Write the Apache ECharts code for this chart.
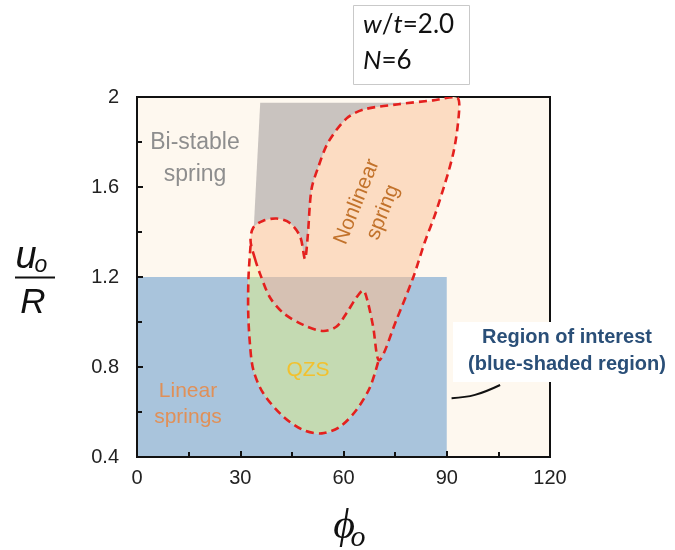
<!DOCTYPE html>
<html>
<head>
<meta charset="utf-8">
<script src="https://cdn.jsdelivr.net/npm/echarts@6/dist/echarts.min.js"></script>
<style>
html,body{margin:0;padding:0;background:#fff;}
#c{width:675px;height:550px;}
</style>
</head>
<body>
<div id="c"></div>
<script>
// ---- data (phi_o in degrees, u_o/R) ----
const phiTicks = [0, 30, 60, 90, 120];
const uTicks = [0.4, 0.8, 1.2, 1.6, 2.0];

// region of interest (blue rectangle)
const roiPhi = [0, 90];
const roiU = [0.4, 1.2];

// bi-stable spring region (gray, partly hidden under nonlinear region)
const bistablePhi = [35.8, 88.0, 70.0, 49.0, 40.0, 33.8];
const bistableU   = [1.975, 1.975, 1.50, 1.20, 1.30, 1.38];

// nonlinear spring region outline (closed)
const nonlinearPhi = [34.3, 33.0, 33.8, 36.7, 40.6, 44.4, 47.4, 48.8, 49.6, 50.7, 52.7, 55.6, 60.9, 66.0, 76.0, 86.0, 93.0, 93.6, 91.9, 87.1, 83.5, 80.3, 75.4, 70.4, 68.6, 67.2, 65.8, 63.8, 60.9, 58.0, 54.1, 48.3, 42.5, 38.6, 35.7];
const nonlinearU   = [1.28, 1.36, 1.42, 1.45, 1.46, 1.44, 1.38, 1.28, 1.38, 1.59, 1.69, 1.80, 1.905, 1.945, 1.968, 1.985, 1.997, 1.94, 1.75, 1.50, 1.35, 1.20, 1.01, 0.83, 0.98, 1.08, 1.14, 1.11, 1.04, 0.98, 0.96, 0.987, 1.04, 1.11, 1.216];

// QZS region outline (closed); first 13 points form its lower dashed edge
const qzsPhi = [33.0, 32.4, 32.3, 32.8, 33.8, 36.7, 42.5, 48.3, 53.7, 59.0, 63.8, 67.7, 70.2, 68.6, 67.2, 65.8, 63.8, 60.9, 58.0, 54.1, 48.3, 42.5, 38.6, 35.7, 34.3];
const qzsU   = [1.34, 1.20, 1.05, 0.905, 0.787, 0.683, 0.58, 0.52, 0.505, 0.535, 0.61, 0.71, 0.83, 0.98, 1.08, 1.14, 1.11, 1.04, 0.98, 0.96, 0.987, 1.04, 1.11, 1.216, 1.28];
const qzsEdgeCount = 13;

// callout curve pointing at the region of interest
const calloutPhi = [91.4, 98.2, 105.5];
const calloutU   = [0.661, 0.676, 0.72];

// ---- styles ----
const C = {
  cream: '#FEF8EF', blue: '#A9C4DC', gray: '#C9C3BF', peach: '#FCDCC2',
  tan: '#D6C1B3', green: '#C4DAB2', paleYellow: '#F7F2C8', red: '#E4201E'
};
const RED_DASH = [8, 5];

function pts(phiArr, uArr, api, n) {
  const out = [];
  const len = n || phiArr.length;
  for (let i = 0; i < len; i++) out.push(api.coord([phiArr[i], uArr[i]]));
  return out;
}

function shapeSeries(opt) {
  return {
    type: 'custom',
    xAxisIndex: opt.grid || 0,
    yAxisIndex: opt.grid || 0,
    z: opt.z,
    clip: true,
    silent: true,
    data: [[0, 0]],
    renderItem: function (params, api) {
      if (opt.rect) {
        const a = api.coord([opt.phi[0], opt.u[1]]);
        const b = api.coord([opt.phi[1], opt.u[0]]);
        return { type: 'rect', shape: { x: a[0], y: a[1], width: b[0] - a[0], height: b[1] - a[1] }, style: opt.style };
      }
      return {
        type: opt.polyline ? 'polyline' : 'polygon',
        shape: { points: pts(opt.phi, opt.u, api, opt.count), smooth: opt.smooth || 0 },
        style: opt.style
      };
    }
  };
}

const axisFont = { fontSize: 20, color: '#222', fontFamily: 'Arial, "Liberation Sans", sans-serif' };

const chart = echarts.init(document.getElementById('c'), null, { renderer: 'canvas' });

const option = {
  backgroundColor: '#fff',
  animation: false,
  grid: [
    { left: 137, right: 125, top: 97, bottom: 93, show: true, backgroundColor: C.cream, borderColor: '#111', borderWidth: 2 },
    { left: 137, bottom: 93, width: 413 * (roiPhi[1] - phiTicks[0]) / (phiTicks[4] - phiTicks[0]), height: 360 * (roiU[1] - uTicks[0]) / (uTicks[4] - uTicks[0]), show: false }
  ],
  xAxis: [
    {
      type: 'value', gridIndex: 0, z: 20, min: phiTicks[0], max: phiTicks[phiTicks.length - 1], interval: phiTicks[1] - phiTicks[0],
      axisLine: { show: true, lineStyle: { color: '#111', width: 2 } },
      axisTick: { show: true, inside: true, length: 6, lineStyle: { color: '#111', width: 2 } },
      minorTick: { show: true, splitNumber: 2, length: 5, lineStyle: { color: '#111', width: 2 } },
      splitLine: { show: false },
      axisLabel: Object.assign({ margin: 11 }, axisFont)
    },
    { type: 'value', gridIndex: 1, min: roiPhi[0], max: roiPhi[1], show: false }
  ],
  yAxis: [
    {
      type: 'value', gridIndex: 0, z: 20, min: uTicks[0], max: uTicks[uTicks.length - 1], interval: 0.4,
      axisLine: { show: true, lineStyle: { color: '#111', width: 2 } },
      axisTick: { show: true, inside: true, length: 6, lineStyle: { color: '#111', width: 2 } },
      minorTick: { show: true, splitNumber: 2, length: 5, lineStyle: { color: '#111', width: 2 } },
      splitLine: { show: false },
      axisLabel: Object.assign({ margin: 18 }, axisFont)
    },
    { type: 'value', gridIndex: 1, min: roiU[0], max: roiU[1], show: false }
  ],
  series: [
    shapeSeries({ phi: bistablePhi, u: bistableU, z: 1, style: { fill: C.gray } }),
    shapeSeries({ phi: nonlinearPhi, u: nonlinearU, z: 2, smooth: 0.3, style: { fill: C.peach } }),
    shapeSeries({ rect: true, phi: roiPhi, u: roiU, z: 3, style: { fill: C.blue } }),
    shapeSeries({ phi: qzsPhi, u: qzsU, z: 3, smooth: 0.3, style: { fill: C.paleYellow } }),
    shapeSeries({ grid: 1, phi: nonlinearPhi, u: nonlinearU, z: 4, smooth: 0.3, style: { fill: C.tan } }),
    shapeSeries({ grid: 1, phi: qzsPhi, u: qzsU, z: 4, smooth: 0.3, style: { fill: C.green } }),
    shapeSeries({ phi: nonlinearPhi, u: nonlinearU, z: 5, smooth: 0.3, style: { fill: 'none', stroke: C.red, lineWidth: 2.6, lineDash: RED_DASH } }),
    shapeSeries({ polyline: true, phi: qzsPhi, u: qzsU, count: qzsEdgeCount, z: 5, smooth: 0.3, style: { fill: 'none', stroke: C.red, lineWidth: 2.6, lineDash: RED_DASH } }),
    shapeSeries({ polyline: true, phi: calloutPhi, u: calloutU, z: 5, smooth: 0.4, style: { fill: 'none', stroke: '#111', lineWidth: 2 } })
  ],
  graphic: [
    // parameter box
    { type: 'rect', z: 100, shape: { x: 353.5, y: 5.5, width: 116, height: 79 }, style: { fill: '#fff', stroke: '#C9C9C9', lineWidth: 1 } },
    { type: 'text', z: 101, x: 363, y: 38, style: { text: '{i|w}/{i|t}=2.0', fill: '#111', fontSize: 26, fontFamily: 'Lato, "Noto Sans", sans-serif', align: 'left', verticalAlign: 'bottom', textAlign: 'left', textVerticalAlign: 'bottom', rich: { i: { fontStyle: 'italic', fontSize: 26, fontFamily: 'Lato, "Noto Sans", sans-serif' } } } },
    { type: 'text', z: 101, x: 363, y: 74, style: { text: '{i|N}=6', fill: '#111', fontSize: 26, fontFamily: 'Lato, "Noto Sans", sans-serif', align: 'left', verticalAlign: 'bottom', textAlign: 'left', textVerticalAlign: 'bottom', rich: { i: { fontStyle: 'italic', fontSize: 26, fontFamily: 'Lato, "Noto Sans", sans-serif' } } } },
    // y axis name: u_o / R
    { type: 'text', z: 101, x: 26, y: 257, style: { text: 'u', fill: '#111', fontSize: 38, fontStyle: 'italic', fontFamily: 'Arial, "Liberation Sans", sans-serif', align: 'center', verticalAlign: 'middle', textAlign: 'center', textVerticalAlign: 'middle' } },
    { type: 'text', z: 101, x: 41, y: 266, style: { text: 'o', fill: '#111', fontSize: 23, fontStyle: 'italic', fontFamily: 'Arial, "Liberation Sans", sans-serif', align: 'center', verticalAlign: 'middle', textAlign: 'center', textVerticalAlign: 'middle' } },
    { type: 'line', z: 101, shape: { x1: 15, y1: 277.5, x2: 55, y2: 277.5 }, style: { stroke: '#111', lineWidth: 2 } },
    { type: 'text', z: 101, x: 33, y: 303, style: { text: 'R', fill: '#111', fontSize: 35, fontStyle: 'italic', fontFamily: 'Arial, "Liberation Sans", sans-serif', align: 'center', verticalAlign: 'middle', textAlign: 'center', textVerticalAlign: 'middle' } },
    // x axis name: phi_o
    { type: 'text', z: 101, x: 344, y: 527, style: { text: 'ϕ', fill: '#111', fontSize: 42, fontStyle: 'italic', fontFamily: '"Liberation Serif", "DejaVu Serif", serif', align: 'center', verticalAlign: 'middle', textAlign: 'center', textVerticalAlign: 'middle' } },
    { type: 'text', z: 101, x: 358, y: 538, style: { text: 'o', fill: '#111', fontSize: 30, fontStyle: 'italic', fontFamily: '"Liberation Serif", "DejaVu Serif", serif', align: 'center', verticalAlign: 'middle', textAlign: 'center', textVerticalAlign: 'middle' } },
    // region labels
    { type: 'text', z: 101, x: 195, y: 159, style: { text: 'Bi-stable\nspring', fill: '#8E8E8E', fontSize: 23, lineHeight: 32, fontFamily: 'Arial, "Liberation Sans", sans-serif', align: 'center', verticalAlign: 'middle', textAlign: 'center', textVerticalAlign: 'middle' } },
    { type: 'text', z: 101, x: 370, y: 207, rotation: 68 * Math.PI / 180, style: { text: 'Nonlinear\nspring', fill: '#C2722B', fontSize: 21, lineHeight: 28, fontFamily: 'Arial, "Liberation Sans", sans-serif', align: 'center', verticalAlign: 'middle', textAlign: 'center', textVerticalAlign: 'middle' } },
    { type: 'text', z: 101, x: 308, y: 370, style: { text: 'QZS', fill: '#F2C12E', fontSize: 21, fontFamily: 'Arial, "Liberation Sans", sans-serif', align: 'center', verticalAlign: 'middle', textAlign: 'center', textVerticalAlign: 'middle' } },
    { type: 'text', z: 101, x: 188, y: 404, style: { text: 'Linear\nsprings', fill: '#E09058', fontSize: 21, lineHeight: 26, fontFamily: 'Arial, "Liberation Sans", sans-serif', align: 'center', verticalAlign: 'middle', textAlign: 'center', textVerticalAlign: 'middle' } },
    // region of interest label
    { type: 'rect', z: 100, shape: { x: 453, y: 322, width: 222, height: 60 }, style: { fill: '#fff' } },
    { type: 'text', z: 101, x: 567, y: 350.5, style: { text: 'Region of interest\n(blue-shaded region)', fill: '#2A4F78', fontSize: 20, fontWeight: 'bold', lineHeight: 27, fontFamily: 'Arial, "Liberation Sans", sans-serif', align: 'center', verticalAlign: 'middle', textAlign: 'center', textVerticalAlign: 'middle' } }
  ]
};
chart.setOption(option);
</script>
</body>
</html>
